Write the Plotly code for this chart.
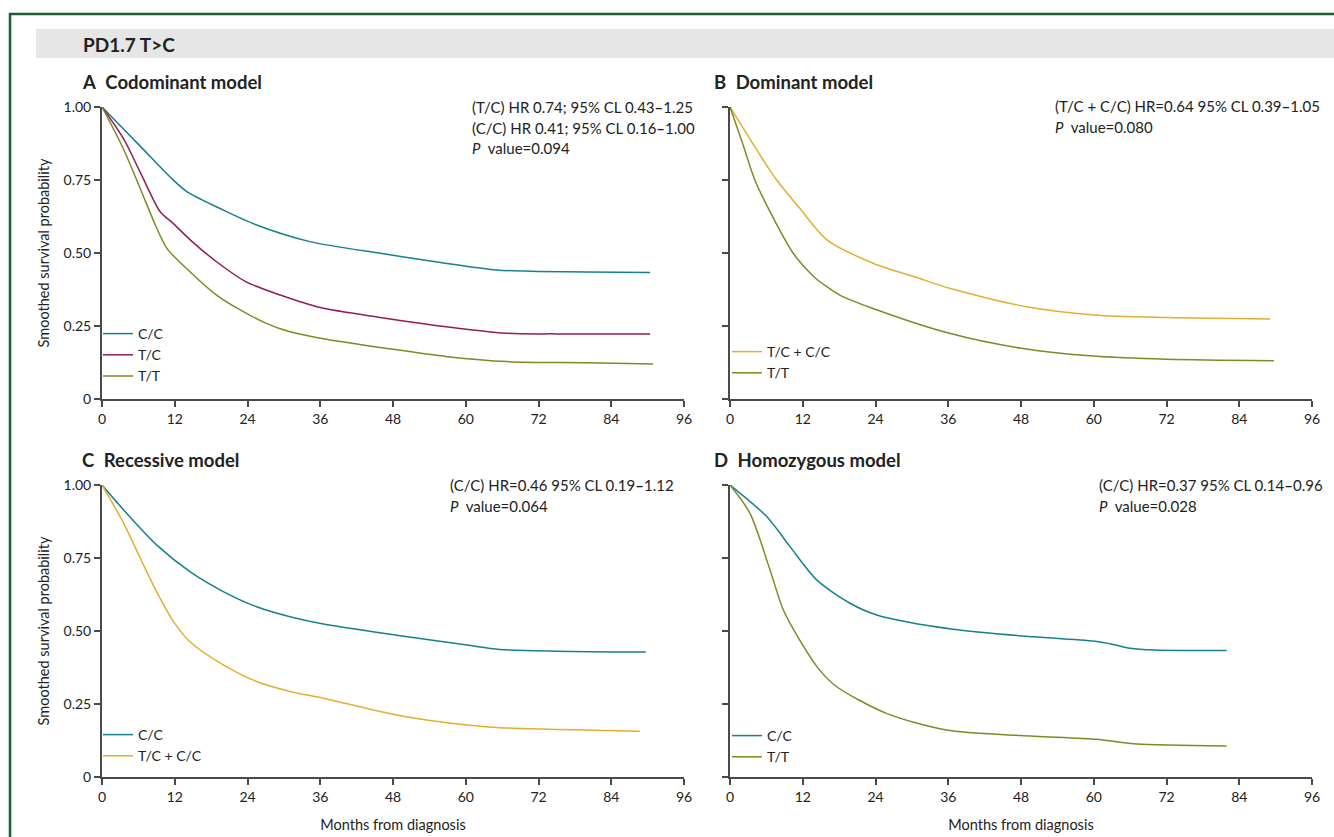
import plotly.graph_objects as go

W, H = 1334, 837

# ---------------- data ----------------
# Panel A: codominant model
a_cc_m = [0, 6.3, 11.2, 14, 20, 25.5, 34.3, 45.9, 55, 65.1, 72, 80, 90.4]
a_cc_v = [1, 0.866, 0.761, 0.71, 0.647, 0.596, 0.539, 0.499, 0.47, 0.442, 0.437, 0.435, 0.433]
a_tc_m = [0, 3.5, 6.3, 9.6, 11.6, 14.5, 18.9, 23.7, 29.4, 36, 45.9, 55, 66.8, 75, 90.4]
a_tc_v = [1, 0.893, 0.777, 0.641, 0.604, 0.546, 0.47, 0.402, 0.356, 0.313, 0.279, 0.252, 0.225, 0.223, 0.223]
a_tt_m = [0, 3.5, 6.3, 8.8, 10.7, 14.5, 18.9, 22.8, 27, 31, 36, 48, 57, 66.8, 80, 90.9]
a_tt_v = [1, 0.858, 0.721, 0.596, 0.516, 0.436, 0.356, 0.305, 0.26, 0.23, 0.208, 0.17, 0.145, 0.128, 0.124, 0.12]

# Panel B: dominant model
b_tccc_m = [0, 3, 6.05, 7.7, 11.5, 16.0, 23.6, 30.8, 36.2, 48.9, 60, 72, 89.1]
b_tccc_v = [1, 0.9, 0.80, 0.75, 0.653, 0.545, 0.465, 0.416, 0.379, 0.316, 0.288, 0.279, 0.274]
b_tt_m = [0, 2, 4.1, 6.05, 10.4, 12.5, 14.3, 16.3, 18.1, 23.6, 36.2, 48, 60, 72, 89.7]
b_tt_v = [1, 0.88, 0.75, 0.664, 0.50, 0.447, 0.41, 0.38, 0.356, 0.31, 0.225, 0.174, 0.147, 0.136, 0.131]

# Panel C: recessive model
c_cc_m = [0, 4.5, 9, 14.5, 20, 25.5, 31, 36.5, 49.2, 60.2, 65.6, 75, 89.7]
c_cc_v = [1, 0.893, 0.795, 0.703, 0.635, 0.583, 0.549, 0.524, 0.484, 0.452, 0.437, 0.431, 0.428]
c_tccc_m = [0, 3.5, 6.3, 9, 11.8, 14.5, 20, 25.5, 31, 36.5, 49.2, 60.2, 65.6, 88.7]
c_tccc_v = [1, 0.872, 0.75, 0.635, 0.532, 0.463, 0.384, 0.327, 0.293, 0.27, 0.21, 0.178, 0.169, 0.157]

# Panel D: homozygous model
d_cc_m = [0, 6.05, 9.9, 14.3, 19.8, 24.2, 36.8, 50, 60.5, 63, 66, 70, 81.9]
d_cc_v = [1, 0.892, 0.789, 0.675, 0.595, 0.555, 0.506, 0.48, 0.464, 0.455, 0.441, 0.435, 0.433]
d_tt_m = [0, 3.3, 6.6, 8.8, 11.5, 14.8, 17.6, 25.8, 35.7, 48, 60.5, 64, 67.1, 81.9]
d_tt_v = [1, 0.903, 0.709, 0.572, 0.469, 0.366, 0.309, 0.218, 0.161, 0.142, 0.129, 0.12, 0.113, 0.106]

x_ticks = [0, 12, 24, 36, 48, 60, 72, 84, 96]
y_ticks = [0, 0.25, 0.5, 0.75, 1.0]
y_ticktext = ["0", "0.25", "0.50", "0.75", "1.00"]

TEAL = "#17808d"
MAROON = "#921c57"
OLIVE = "#7d8b25"
GOLD = "#e3ae33"

FONT = "Lato"
TXT = "#222222"
AX = "#4a4a4a"


def px(x):
    return x / W


def py(y):
    return 1 - y / H


fig = go.Figure()

panels = [
    ("x", "y", "legend", [("C/C", a_cc_m, a_cc_v, TEAL), ("T/C", a_tc_m, a_tc_v, MAROON), ("T/T", a_tt_m, a_tt_v, OLIVE)]),
    ("x2", "y2", "legend2", [("T/C + C/C", b_tccc_m, b_tccc_v, GOLD), ("T/T", b_tt_m, b_tt_v, OLIVE)]),
    ("x3", "y3", "legend3", [("C/C", c_cc_m, c_cc_v, TEAL), ("T/C + C/C", c_tccc_m, c_tccc_v, GOLD)]),
    ("x4", "y4", "legend4", [("C/C", d_cc_m, d_cc_v, TEAL), ("T/T", d_tt_m, d_tt_v, OLIVE)]),
]

for xa, ya, lg, series in panels:
    for name, m, v, col in series:
        fig.add_trace(go.Scatter(
            x=m, y=v, mode="lines", name=name, xaxis=xa, yaxis=ya, legend=lg,
            line=dict(color=col, width=1.5, shape="spline", smoothing=0.8),
            hoverinfo="skip",
        ))

xdomA = [px(102), px(684)]
xdomB = [px(730), px(1312)]
ydomTop = [py(399), py(107)]
ydomBot = [py(777), py(485)]

common_x = dict(range=[0, 96], tickvals=x_ticks, ticks="outside", ticklen=6, tickwidth=1.5,
                tickcolor=AX, showline=True, linecolor=AX, linewidth=2, showgrid=False,
                zeroline=False, tickfont=dict(family=FONT, size=14, color=TXT), fixedrange=True,
                automargin=False)
common_y = dict(range=[0, 1], tickvals=y_ticks, ticktext=y_ticktext, ticks="outside", ticklen=6,
                tickwidth=1.5, tickcolor=AX, showline=True, linecolor=AX, linewidth=2,
                showgrid=False, zeroline=False, tickfont=dict(family=FONT, size=14, color=TXT),
                fixedrange=True, automargin=False)

xtitle = dict(text="Months from diagnosis", font=dict(family=FONT, size=14.5, color=TXT), standoff=16)
ytitle = dict(text="Smoothed survival probability", font=dict(family=FONT, size=14.5, color=TXT), standoff=10)

fig.update_layout(
    xaxis=dict(common_x, domain=xdomA, anchor="y"),
    yaxis=dict(common_y, domain=ydomTop, anchor="x", title=ytitle),
    xaxis2=dict(common_x, domain=xdomB, anchor="y2"),
    yaxis2=dict(common_y, domain=ydomTop, anchor="x2", showticklabels=False),
    xaxis3=dict(common_x, domain=xdomA, anchor="y3", title=xtitle),
    yaxis3=dict(common_y, domain=ydomBot, anchor="x3", title=ytitle),
    xaxis4=dict(common_x, domain=xdomB, anchor="y4", title=xtitle),
    yaxis4=dict(common_y, domain=ydomBot, anchor="x4", showticklabels=False),
)

leg_common = dict(xanchor="left", yanchor="top", bgcolor="rgba(0,0,0,0)", borderwidth=0,
                  font=dict(family=FONT, size=14, color=TXT), tracegroupgap=0, itemwidth=30)
fig.update_layout(
    showlegend=True,
    legend=dict(leg_common, x=px(98), y=py(318)),
    legend2=dict(leg_common, x=px(727), y=py(336)),
    legend3=dict(leg_common, x=px(98), y=py(719)),
    legend4=dict(leg_common, x=px(727), y=py(720)),
)

shapes = [
    dict(type="rect", xref="paper", yref="paper", x0=px(36), x1=1.0, y0=py(58), y1=py(29),
         fillcolor="#e6e6e7", line=dict(width=0), layer="below"),
    dict(type="path", xref="paper", yref="paper",
         path=f"M {px(10)} 0 L {px(10)} {py(14)} L 1 {py(14)}",
         line=dict(color="#1b5e34", width=2.5)),
]

ann = []


def add_text(x, y, text, size=15, xanchor="left"):
    ann.append(dict(x=px(x), y=py(y), xref="paper", yref="paper", text=text, showarrow=False,
                    xanchor=xanchor, yanchor="middle", align="left",
                    font=dict(family=FONT, size=size, color=TXT)))


add_text(81, 44, "<b>PD1.7 T>C</b>", size=19)
add_text(80, 82, "<b>A</b>  <b>Codominant model</b>", size=18.5)
add_text(712, 82, "<b>B</b>  <b>Dominant model</b>", size=18.5)
add_text(80, 460, "<b>C</b>  <b>Recessive model</b>", size=18.5)
add_text(712, 460, "<b>D</b>  <b>Homozygous model</b>", size=18.5)

add_text(470, 107, "(T/C) HR 0.74; 95% CL 0.43<b>–</b>1.25")
add_text(470, 128, "(C/C) HR 0.41; 95% CL 0.16<b>–</b>1.00")
add_text(470, 148, "<i>P</i>  value=0.094")

add_text(1053, 106, "(T/C + C/C) HR=0.64 95% CL 0.39<b>–</b>1.05")
add_text(1053, 127, "<i>P</i>  value=0.080")

add_text(448, 485, "(C/C) HR=0.46 95% CL 0.19<b>–</b>1.12")
add_text(448, 506, "<i>P</i>  value=0.064")

add_text(1097, 485, "(C/C) HR=0.37 95% CL 0.14<b>–</b>0.96")
add_text(1097, 506, "<i>P</i>  value=0.028")

fig.update_layout(
    width=W, height=H, margin=dict(l=0, r=0, t=0, b=0, pad=0, autoexpand=False),
    paper_bgcolor="white", plot_bgcolor="white",
    shapes=shapes, annotations=ann,
    font=dict(family=FONT, color=TXT),
)

fig.write_html(
    "out.html",
    config={"displayModeBar": False},
    post_script="document.body.style.margin='0';document.body.style.overflow='hidden';",
)
